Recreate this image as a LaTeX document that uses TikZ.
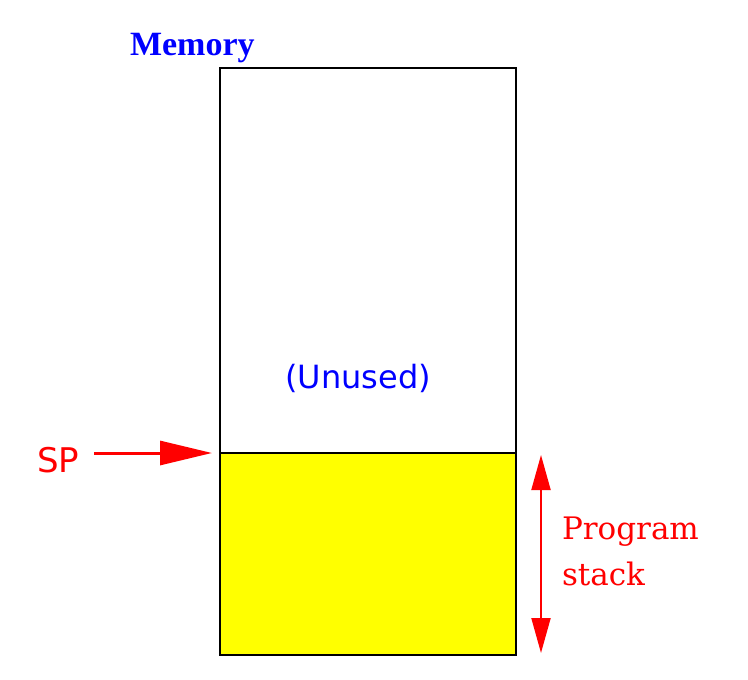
\documentclass[tikz,border=0pt]{standalone}
\usepackage{fontspec}
\usetikzlibrary{arrows.meta}
\newfontfamily\memfont{Liberation Serif}
\newfontfamily\labserif{DejaVu Serif}
\newfontfamily\labsans{DejaVu Sans}
\definecolor{memblue}{RGB}{0,0,255}
\definecolor{memred}{RGB}{255,0,0}
\definecolor{memyellow}{RGB}{255,255,0}
\tikzset{
  region/.style={draw=black, line width=1.5pt, minimum width=296pt, inner sep=0pt, outer sep=0pt},
  lbl/.style={inner sep=0pt, outer sep=0pt},
  sparrow/.style={draw=memred, line width=3pt, -{Triangle[length=52pt,width=24pt]}},
  sizearrow/.style={draw=memred, line width=2pt, {Triangle[length=35pt,width=19pt]}-{Triangle[length=35pt,width=19pt]}}
}
\begin{document}
\begin{tikzpicture}[x=1pt,y=-1pt]
\useasboundingbox (0,0) rectangle (748,680);
\fill[white] (0,0) rectangle (748,680);
\node[region, minimum height=385pt] (unused) at (368,260.5) {};
\node[region, fill=memyellow, minimum height=202pt] (stack) at (368,554) {};
\node[lbl, anchor=base west, text=memblue, font=\memfont\bfseries\fontsize{34}{40}\selectfont] (memory) at (130,55) {Memory};
\node[lbl, anchor=base, text=memblue, font=\labsans\fontsize{32}{38}\selectfont] (unusedtext) at (358,388) {(Unused)};
\node[lbl, anchor=base west, text=memred, font=\labsans\fontsize{34}{40}\selectfont] (sp) at (37,472) {SP};
\node[lbl, anchor=north west, text=memred, align=left, font=\labserif\fontsize{31}{46}\selectfont] (stacktext) at (562,517) {Program\\stack};
\coordinate (sptip) at (212,453);
\coordinate (stacktop) at (541,455);
\coordinate (stackbot) at (541,653);
\draw[sparrow, shorten <=15pt] (sp.east |- sptip) -- (sptip);
\draw[sizearrow] (stacktop) -- (stackbot);
\end{tikzpicture}
\end{document}
